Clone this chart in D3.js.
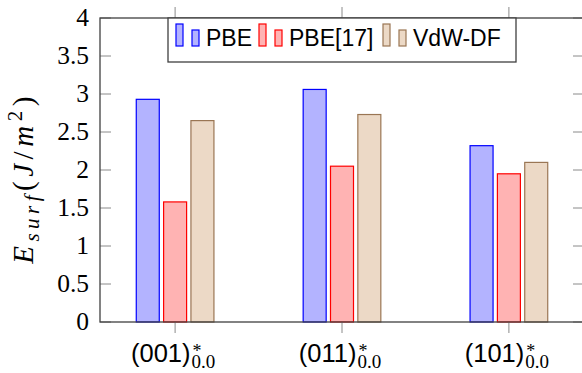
<!DOCTYPE html>
<html>
<head>
<meta charset="utf-8">
<script src="https://cdn.jsdelivr.net/npm/d3@7"></script>
<style>
  body { margin: 0; background: #fff; }
  svg { display: block; }
</style>
</head>
<body>
<svg id="chart"></svg>
<script>
"use strict";

// data
const facets = ["001", "011", "101"];
const seriesNames = ["PBE", "PBE[17]", "VdW-DF"];
const pbe = [2.93, 3.06, 2.32];
const pbeRef = [1.58, 2.05, 1.95];
const vdw = [2.65, 2.73, 2.10];
const yTicks = [0, 0.5, 1, 1.5, 2, 2.5, 3, 3.5, 4];

const seriesValues = [pbe, pbeRef, vdw];
const fills = ["#b3b3ff", "#ffb3b3", "#ecd9c6"];
const strokes = ["#0000ff", "#ff0000", "#9a7654"];

const width = 582, height = 373;
const plot = { left: 100, right: 584, top: 18, bottom: 322 };
const sans = '"Liberation Sans", Arial, sans-serif';
const serif = '"Liberation Serif", serif';

let svg = d3.select('svg#chart')
  .attr('width', width)
  .attr('height', height);

let x = d3.scalePoint()
  .domain(facets)
  .range([plot.left, plot.right])
  .padding(0.45);

let inner = d3.scaleBand()
  .domain(seriesNames)
  .range([-41, 41]);
let barWidth = 23;

let y = d3.scaleLinear()
  .domain([0, 4])
  .range([plot.bottom, plot.top]);

/* bars */
seriesNames.forEach((name, si) => {
  svg.append('g')
    .selectAll('rect')
    .data(facets.map((f, i) => ({ f: f, v: seriesValues[si][i] })))
    .enter()
    .append('rect')
    .attr('x', d => x(d.f) + inner(name) + inner.bandwidth() / 2 - barWidth / 2)
    .attr('y', d => y(d.v))
    .attr('width', barWidth)
    .attr('height', d => y(0) - y(d.v))
    .attr('fill', fills[si])
    .attr('stroke', strokes[si])
    .attr('stroke-width', 1.2);
});

/* y ticks (inward, both sides) */
let tickColor = '#8a8a8a';
svg.append('g')
  .selectAll('line')
  .data(yTicks)
  .enter()
  .append('line')
  .attr('x1', plot.left).attr('x2', plot.left + 11)
  .attr('y1', d => y(d)).attr('y2', d => y(d))
  .attr('stroke', tickColor);
svg.append('g')
  .selectAll('line')
  .data(yTicks)
  .enter()
  .append('line')
  .attr('x1', plot.right - 11).attr('x2', plot.right)
  .attr('y1', d => y(d)).attr('y2', d => y(d))
  .attr('stroke', tickColor);

svg.append('g')
  .selectAll('text')
  .data(yTicks)
  .enter()
  .append('text')
  .attr('x', plot.left - 11)
  .attr('y', d => y(d) + 8)
  .attr('text-anchor', 'end')
  .style('font-family', serif)
  .style('font-size', '25.5px')
  .text(d => d);

/* x ticks (outward, top and bottom) */
svg.append('g')
  .selectAll('line')
  .data(facets)
  .enter()
  .append('line')
  .attr('x1', d => x(d)).attr('x2', d => x(d))
  .attr('y1', plot.bottom).attr('y2', plot.bottom + 11)
  .attr('stroke', tickColor);
svg.append('g')
  .selectAll('line')
  .data(facets)
  .enter()
  .append('line')
  .attr('x1', d => x(d)).attr('x2', d => x(d))
  .attr('y1', plot.top - 11).attr('y2', plot.top)
  .attr('stroke', tickColor);

/* frame */
svg.append('rect')
  .attr('x', plot.left).attr('y', plot.top)
  .attr('width', plot.right - plot.left)
  .attr('height', plot.bottom - plot.top)
  .attr('fill', 'none')
  .attr('stroke', '#404040')
  .attr('stroke-width', 1.3);

/* x labels: (hkl) with sub 0.0 and sup * */
facets.forEach(f => {
  let g = svg.append('g');
  let main = g.append('text')
    .attr('y', 362)
    .style('font-family', sans)
    .style('font-size', '25.5px')
    .text(`(${f})`);
  let sub = g.append('text')
    .attr('y', 368)
    .style('font-family', serif)
    .style('font-size', '19px')
    .text('0.0');
  let sup = g.append('text')
    .attr('y', 357)
    .style('font-family', serif)
    .style('font-size', '18px')
    .text('*');
  let mw = main.node().getComputedTextLength();
  let sw = sub.node().getComputedTextLength();
  let left = x(f) - 2 - (mw + sw + 1) / 2;
  main.attr('x', left);
  sub.attr('x', left + mw + 1);
  sup.attr('x', left + mw + 2);
});

/* y axis title */
let yt = svg.append('text')
  .attr('transform', `translate(33, ${(plot.top + plot.bottom) / 2 + 8}) rotate(-90)`)
  .attr('text-anchor', 'middle')
  .style('font-family', serif)
  .style('font-size', '29px')
  .style('letter-spacing', '4.5px');
yt.append('tspan').style('font-style', 'italic').text('E');
yt.append('tspan').attr('dy', 6).style('font-style', 'italic').style('font-size', '21px').text('surf');
yt.append('tspan').attr('dy', -6).text('(');
yt.append('tspan').style('font-style', 'italic').text('J');
yt.append('tspan').text('/');
yt.append('tspan').style('font-style', 'italic').text('m');
yt.append('tspan').attr('dy', -11).style('font-size', '21px').text('2');
yt.append('tspan').attr('dy', 11).text(')');

/* legend */
let legend = svg.append('g');
legend.append('rect')
  .attr('x', 168).attr('y', plot.top)
  .attr('width', 348).attr('height', 44)
  .attr('fill', '#fff')
  .attr('stroke', '#404040')
  .attr('stroke-width', 1.3);

let legendX = [176, 259, 383];
seriesNames.forEach((name, si) => {
  let lx = legendX[si];
  legend.append('rect')
    .attr('x', lx).attr('y', 24)
    .attr('width', 7).attr('height', 22)
    .attr('fill', fills[si]).attr('stroke', strokes[si]).attr('stroke-width', 1.2);
  legend.append('rect')
    .attr('x', lx + 16).attr('y', 30)
    .attr('width', 7).attr('height', 16)
    .attr('fill', fills[si]).attr('stroke', strokes[si]).attr('stroke-width', 1.2);
  legend.append('text')
    .attr('x', lx + 30).attr('y', 46)
    .style('font-family', sans)
    .style('font-size', '23px')
    .text(name);
});
</script>
</body>
</html>
